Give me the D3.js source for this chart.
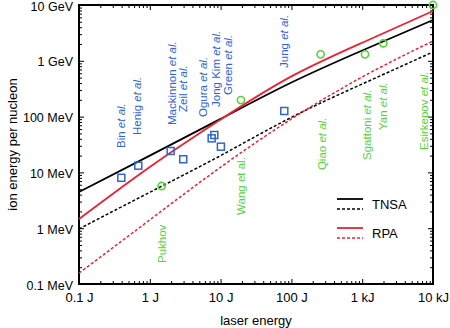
<!DOCTYPE html>
<html lang="en">
<head>
<meta charset="UTF-8">
<title>Ion energy vs laser energy</title>
<script src="https://cdnjs.cloudflare.com/ajax/libs/d3/7.8.5/d3.min.js"></script>
<style>
    body { margin: 0; background: #fff; }
    svg { display: block; font-family: "Liberation Sans", Arial, Helvetica, sans-serif; }
    .tick text { font-size: 13px; fill: #000; }
    .domain { display: none; }
    .tick line { stroke: #000; stroke-width: 1; }
</style>
</head>
<body>
<div id="chart"></div>
<script>
    // laser energy (J) where the model curves are sampled
    const laserJ = [0.1, 1, 10, 100, 1000, 10000];
    // model curves, ion energy per nucleon in MeV
    const tnsaHigh = [4.45, 20, 91, 408, 1530, 5380];
    const tnsaLow = [0.97, 4.4, 20, 97, 384, 1440];
    const rpaHigh = [1.46, 12.5, 88.7, 525, 2110, 7800];
    const rpaLow = [0.157, 1.41, 12.4, 90.6, 513, 2265];

    // experiments (blue squares)
    const expNames = ["Bin", "Henig", "Mackinnon", "Zeil", "Ogura", "Jong Kim", "Green", "Jung"];
    const expJ = [0.396, 0.688, 1.97, 2.97, 7.48, 8.15, 10.1, 79.4];
    const expMeV = [8.0, 13.2, 24.2, 17.2, 40.8, 46.8, 28.9, 126];

    // simulations (green circles)
    const simNames = ["Pukhov", "Wang", "Qiao", "Sgattoni", "Yan", "Esirkepov"];
    const simJ = [1.47, 19.4, 259, 1096, 1987, 10000];
    const simMeV = [5.7, 198, 1306, 1306, 2060, 10000];

    // where each label starts (J, MeV), label reads bottom to top
    const expLabelJ = [0.396, 0.66, 2.03, 2.94, 5.7, 8.53, 12.9, 79.4];
    const expLabelMeV = [27.4, 46.8, 70.6, 121, 98.4, 149, 244, 743];
    const simLabelJ = [1.5, 19.7, 268, 1160, 1990, 7460];
    const simLabelMeV = [0.238, 1.73, 11.0, 16.7, 57.5, 25.2];
    const simSuffix = ["", "et al.", "et al.", "et al.", "et al.", "et al."];
    const simItalic = [false, false, true, true, true, true];

    const xTicks = [0.1, 1, 10, 100, 1000, 10000];
    const xTickLabels = ["0.1 J", "1 J", "10 J", "100 J", "1 kJ", "10 kJ"];
    const yTicks = [0.1, 1, 10, 100, 1000, 10000];
    const yTickLabels = ["0.1 MeV", "1 MeV", "10 MeV", "100 MeV", "1 GeV", "10 GeV"];

    const W = 450, H = 328;
    const margin = {top: 5, right: 17, bottom: 44, left: 79};
    const blue = "#2f63d8", green = "#55d23a", red = "#ee2030";

    const svg = d3.select("#chart").append("svg")
        .attr("width", W).attr("height", H);

    const x = d3.scaleLog().domain([0.1, 10000]).range([margin.left, W - margin.right]);
    const y = d3.scaleLog().domain([0.1, 10000]).range([H - margin.bottom, margin.top]);

    const minorOf = ticks => {
        const out = [];
        ticks.slice(0, -1).forEach(t => { for (let k = 2; k <= 9; k++) out.push(t * k); });
        return out;
    };
    const xMinor = minorOf(xTicks), yMinor = minorOf(yTicks);

    // axes, ticks pointing inward
    const x0 = x.range()[0], x1 = x.range()[1], y0 = y.range()[0], y1 = y.range()[1];

    svg.append("g").attr("transform", `translate(0,${y0})`)
        .call(d3.axisBottom(x).tickValues(xTicks).tickSizeInner(-5).tickSizeOuter(0).tickPadding(9)
            .tickFormat((d, i) => xTickLabels[i]));
    svg.append("g").attr("transform", `translate(0,${y0})`)
        .call(d3.axisBottom(x).tickValues(xMinor).tickSize(-3).tickFormat(""));
    svg.append("g").attr("transform", `translate(0,${y1})`)
        .call(d3.axisTop(x).tickValues(xTicks).tickSize(-5).tickFormat(""));
    svg.append("g").attr("transform", `translate(0,${y1})`)
        .call(d3.axisTop(x).tickValues(xMinor).tickSize(-3).tickFormat(""));

    const yAxis = svg.append("g").attr("transform", `translate(${x0},0)`)
        .call(d3.axisLeft(y).tickValues(yTicks).tickSizeInner(-5).tickSizeOuter(0).tickPadding(6)
            .tickFormat((d, i) => yTickLabels[i]));
    yAxis.selectAll(".tick text").attr("dy", "0.4em").style("font-size", "12.5px");
    svg.append("g").attr("transform", `translate(${x0},0)`)
        .call(d3.axisLeft(y).tickValues(yMinor).tickSize(-3).tickFormat(""));
    svg.append("g").attr("transform", `translate(${x1},0)`)
        .call(d3.axisRight(y).tickValues(yTicks).tickSize(-5).tickFormat(""));
    svg.append("g").attr("transform", `translate(${x1},0)`)
        .call(d3.axisRight(y).tickValues(yMinor).tickSize(-3).tickFormat(""));

    svg.append("rect")
        .attr("x", x0).attr("y", y1).attr("width", x1 - x0).attr("height", y0 - y1)
        .attr("fill", "none").attr("stroke", "#000").attr("stroke-width", 2);

    // axis titles
    svg.append("text")
        .attr("x", (x0 + x1) / 2).attr("y", 325)
        .attr("text-anchor", "middle").attr("font-size", 13)
        .text("laser energy");
    svg.append("text")
        .attr("transform", `translate(12,${(y0 + y1) / 2}) rotate(-90)`)
        .attr("text-anchor", "middle").attr("dy", "0.35em").attr("font-size", 13)
        .text("ion energy per nucleon");

    // model curves
    const line = d3.line()
        .x((d, i) => x(laserJ[i]))
        .y(d => y(d))
        .curve(d3.curveNatural);

    const curves = [
        {values: tnsaLow, color: "#000", dash: "3,2"},
        {values: rpaLow, color: red, dash: "3,2"},
        {values: tnsaHigh, color: "#000", dash: null},
        {values: rpaHigh, color: red, dash: null}
    ];
    svg.append("g").selectAll("path")
        .data(curves)
        .join("path")
        .attr("d", d => line(d.values))
        .attr("fill", "none")
        .attr("stroke", d => d.color)
        .attr("stroke-width", d => d.dash ? 1.5 : 1.8)
        .attr("stroke-dasharray", d => d.dash);

    // data points
    svg.append("g").selectAll("rect")
        .data(expJ)
        .join("rect")
        .attr("x", d => x(d) - 3.5)
        .attr("y", (d, i) => y(expMeV[i]) - 3.5)
        .attr("width", 7).attr("height", 7)
        .attr("fill", "none").attr("stroke", blue).attr("stroke-width", 1.5);

    svg.append("g").selectAll("circle")
        .data(simJ)
        .join("circle")
        .attr("cx", d => x(d))
        .attr("cy", (d, i) => y(simMeV[i]))
        .attr("r", 3.6)
        .attr("fill", "none").attr("stroke", green).attr("stroke-width", 1.6);

    // rotated labels
    function addLabel(name, j, mev, color, suffix, italic) {
        const t = svg.append("text")
            .attr("transform", `translate(${x(j)},${y(mev)}) rotate(-90)`)
            .attr("dy", "0.35em")
            .attr("font-size", 11.5)
            .attr("fill", color);
        t.append("tspan").text(name + (suffix ? " " : ""));
        if (suffix) t.append("tspan").attr("font-style", italic ? "italic" : "normal").text(suffix);
    }
    expNames.forEach((n, i) => addLabel(n, expLabelJ[i], expLabelMeV[i], blue, "et al.", true));
    simNames.forEach((n, i) => addLabel(n, simLabelJ[i], simLabelMeV[i], green, simSuffix[i], simItalic[i]));

    // legend
    const legend = svg.append("g");
    const legendRows = [
        {name: "TNSA", color: "#000", yy: 199},
        {name: "RPA", color: red, yy: 228}
    ];
    legendRows.forEach(r => {
        legend.append("line").attr("x1", 337).attr("x2", 363).attr("y1", r.yy).attr("y2", r.yy)
            .attr("stroke", r.color).attr("stroke-width", 1.8);
        legend.append("line").attr("x1", 337).attr("x2", 363).attr("y1", r.yy + 10).attr("y2", r.yy + 10)
            .attr("stroke", r.color).attr("stroke-width", 1.5).attr("stroke-dasharray", "3,2");
        legend.append("text").attr("x", 372).attr("y", r.yy + 5).attr("dy", "0.35em")
            .attr("font-size", 13).text(r.name);
    });
</script>
</body>
</html>
